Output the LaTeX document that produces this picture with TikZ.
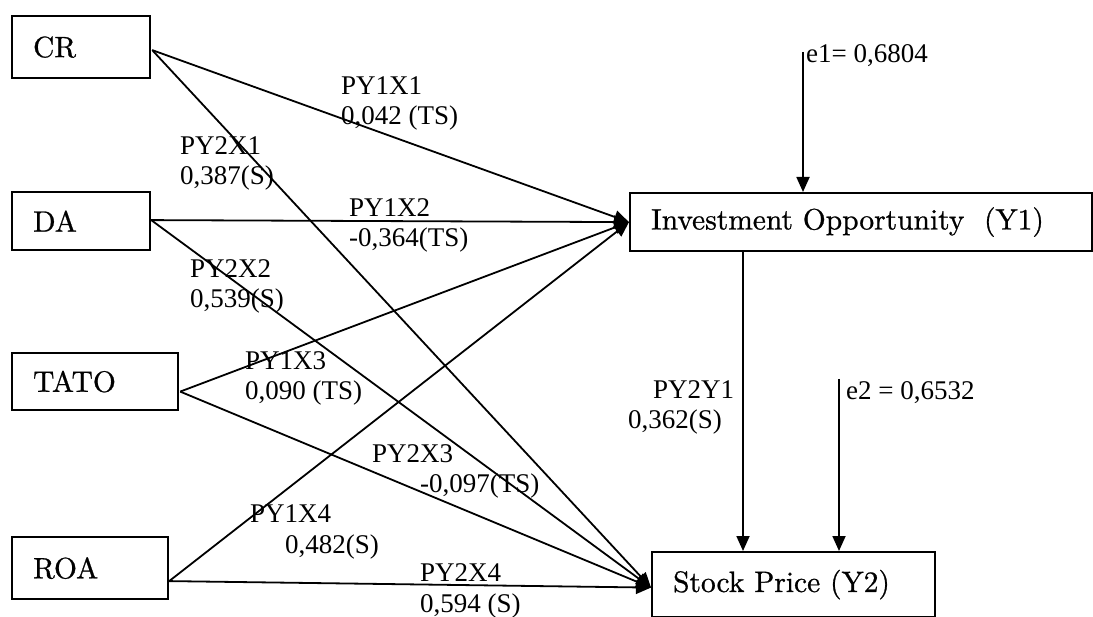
\documentclass[tikz,border=0pt]{standalone}
\usepackage{fontspec}
\newfontfamily\labelfont{Liberation Serif}
\newfontfamily\boxfont{lmroman10-regular}[Extension=.otf, FakeBold=0.8]
\usetikzlibrary{arrows.meta,calc}
\begin{document}
\begin{tikzpicture}[x=1pt,y=-1pt,
  varbox/.style={draw, line width=2.2pt, anchor=north west, inner xsep=21pt,
    inner ysep=0pt, align=left, font=\boxfont\fontsize{29.5}{32}\selectfont},
  link/.style={line width=1.8pt, -{Triangle[length=15pt,width=13pt]}},
  coef/.style={anchor=base west, inner sep=0pt, align=left,
    font=\labelfont\fontsize{27}{30.5}\selectfont}]
\useasboundingbox (0,0) rectangle (1093,617);

% exogenous variables
\node[varbox, text width=96pt,  minimum height=62pt] (cr)   at (11,15)  {CR};
\node[varbox, text width=96pt,  minimum height=58pt] (da)   at (11,191) {DA};
\node[varbox, text width=124pt, minimum height=57pt] (tato) at (11,352) {TATO};
\node[varbox, text width=114pt, minimum height=62pt] (roa)  at (11,536) {ROA};

% endogenous variables
\node[varbox, text width=420pt, minimum height=58pt] (y1) at (629,192)
  {Investment Opportunity\ \ (Y1)};
\node[varbox, text width=241pt, minimum height=65pt] (y2) at (651,551)
  {Stock Price (Y2)};

% path start and end points
\coordinate (crout)   at ($(cr.east)+(1,3)$);
\coordinate (daout)   at ($(da.east)+(0,-1)$);
\coordinate (tatoout) at ($(tato.east)+(1,10)$);
\coordinate (roaout)  at ($(roa.east)+(0,13)$);
\coordinate (y2in)    at ($(y2.west)+(0,3)$);
\coordinate (y1out)   at ($(y1.south west)+(114,0)$);
\coordinate (e1top)   at (803,52);
\coordinate (e2top)   at (839,379);

% paths to Y1
\draw[link] (crout)   -- (y1.west);
\draw[link] (daout)   -- (y1.west);
\draw[link] (tatoout) -- (y1.west);
\draw[link] (roaout)  -- (y1.west);

% paths to Y2
\draw[link] (crout)   -- (y2in);
\draw[link] (daout)   -- (y2in);
\draw[link] (tatoout) -- (y2in);
\draw[link] (roaout)  -- (y2in);
\draw[link] (y1out) -- (y1out |- y2.north);

% residuals
\draw[link] (e1top) -- (e1top |- y1.north);
\draw[link] (e2top) -- (e2top |- y2.north);

% path coefficients (anchored on the baseline of the last line)
\node[coef] (c11) at (341,125) {PY1X1\\0,042 (TS)};
\node[coef] (c21) at (180,185) {PY2X1\\0,387(S)};
\node[coef] (c12) at (349,247) {PY1X2\\-0,364(TS)};
\node[coef] (c22) at (190,308) {PY2X2\\0,539(S)};
\node[coef] (c13) at (245,400) {PY1X3\\0,090 (TS)};
\node[coef] (c23) at (372,493) {PY2X3\\\hspace*{48pt}-0,097(TS)};
\node[coef] (c14) at (250,553) {PY1X4\\\hspace*{35pt}0,482(S)};
\node[coef] (c24) at (420,612) {PY2X4\\0,594 (S)};
\node[coef] (cyy) at (628,429) {\hspace*{25pt}PY2Y1\\0,362(S)};
\node[coef] (ce1) at (806,63)  {e1= 0,6804};
\node[coef] (ce2) at (846,400) {e2 = 0,6532};
\end{tikzpicture}
\end{document}
